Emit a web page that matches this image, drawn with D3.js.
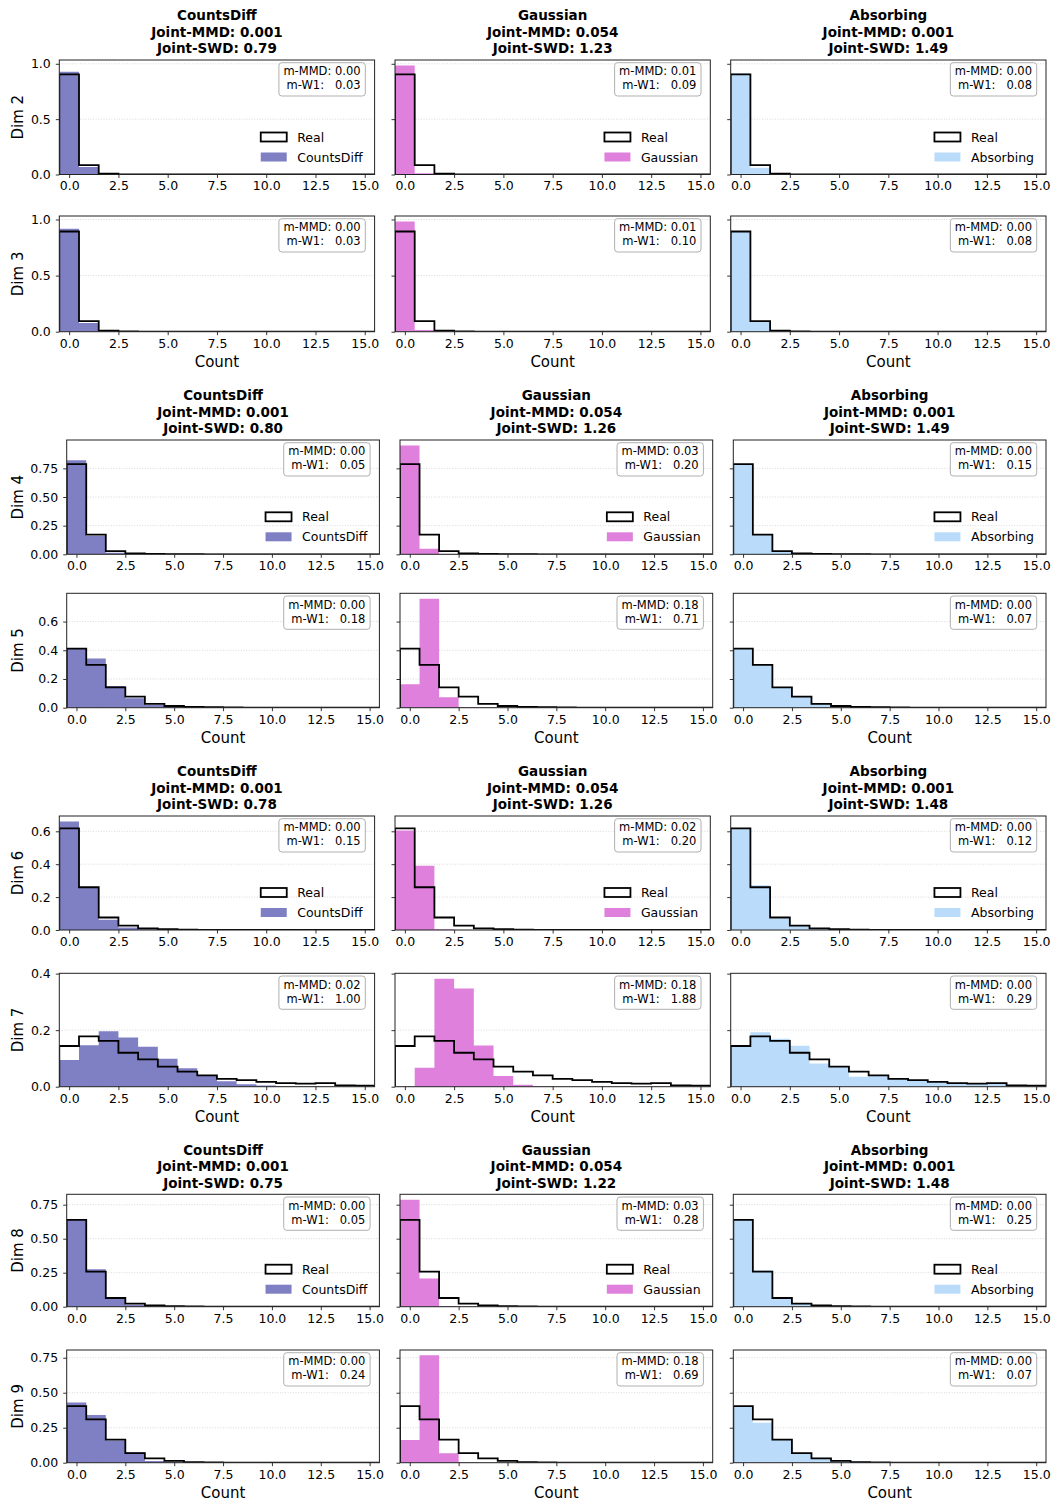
<!DOCTYPE html>
<html>
<head>
<meta charset="utf-8">
<script src="https://cdn.jsdelivr.net/npm/d3@7"></script>
<style>
  body { margin: 0; background: #fff; }
  svg { display: block; }
  text { font-family: "DejaVu Sans", "Liberation Sans", sans-serif; fill: #000; }
</style>
</head>
<body>
<svg id="chart" width="1055" height="1502"></svg>
<script>
// ---------- data: per-dimension count histograms (density per integer bin 0..15) ----------
const bins = d3.range(16);
const xTicks = [0, 2.5, 5, 7.5, 10, 12.5, 15];

const methods = ["CountsDiff", "Gaussian", "Absorbing"];
const methodColors = ["#7f7fc3", "#de80dc", "#badcfa"];
const dims = [2, 3, 4, 5, 6, 7, 8, 9];

const real2  = [0.905, 0.085, 0.007, 0.002, 0.001, 0, 0, 0, 0, 0, 0, 0, 0, 0, 0, 0];
const cd2    = [0.928, 0.068, 0.003, 0.001, 0, 0, 0, 0, 0, 0, 0, 0, 0, 0, 0, 0];
const gauss2 = [0.985, 0.012, 0.003, 0, 0, 0, 0, 0, 0, 0, 0, 0, 0, 0, 0, 0];
const abs2   = [0.915, 0.062, 0.014, 0.005, 0.002, 0.001, 0.001, 0, 0, 0, 0, 0, 0, 0, 0, 0];

const real3  = [0.893, 0.095, 0.009, 0.002, 0.001, 0, 0, 0, 0, 0, 0, 0, 0, 0, 0, 0];
const cd3    = [0.917, 0.078, 0.004, 0.001, 0, 0, 0, 0, 0, 0, 0, 0, 0, 0, 0, 0];
const gauss3 = [0.982, 0.016, 0.002, 0, 0, 0, 0, 0, 0, 0, 0, 0, 0, 0, 0, 0];
const abs3   = [0.895, 0.094, 0.009, 0.002, 0, 0, 0, 0, 0, 0, 0, 0, 0, 0, 0, 0];

const real4  = [0.787, 0.171, 0.028, 0.008, 0.003, 0.002, 0.001, 0, 0, 0, 0, 0, 0, 0, 0, 0];
const cd4    = [0.820, 0.162, 0.014, 0.003, 0.001, 0, 0, 0, 0, 0, 0, 0, 0, 0, 0, 0];
const gauss4 = [0.950, 0.048, 0.002, 0, 0, 0, 0, 0, 0, 0, 0, 0, 0, 0, 0, 0];
const abs4   = [0.787, 0.170, 0.030, 0.008, 0.003, 0.001, 0.001, 0, 0, 0, 0, 0, 0, 0, 0, 0];

const real5  = [0.412, 0.298, 0.142, 0.077, 0.026, 0.012, 0.005, 0.003, 0.002, 0.001, 0.001, 0, 0, 0, 0, 0];
const cd5    = [0.412, 0.342, 0.152, 0.065, 0.018, 0.008, 0.002, 0.001, 0, 0, 0, 0, 0, 0, 0, 0];
const gauss5 = [0.163, 0.759, 0.072, 0.005, 0.001, 0, 0, 0, 0, 0, 0, 0, 0, 0, 0, 0];
const abs5   = [0.410, 0.298, 0.143, 0.076, 0.027, 0.013, 0.005, 0.003, 0.002, 0.001, 0, 0, 0, 0, 0, 0];

const real6  = [0.618, 0.260, 0.076, 0.027, 0.010, 0.005, 0.002, 0.001, 0.001, 0, 0, 0, 0, 0, 0, 0];
const cd6    = [0.660, 0.258, 0.062, 0.015, 0.004, 0.001, 0, 0, 0, 0, 0, 0, 0, 0, 0, 0];
const gauss6 = [0.605, 0.390, 0.005, 0, 0, 0, 0, 0, 0, 0, 0, 0, 0, 0, 0, 0];
const abs6   = [0.620, 0.272, 0.070, 0.025, 0.009, 0.004, 0.001, 0, 0, 0, 0, 0, 0, 0, 0, 0];

const real7  = [0.144, 0.178, 0.162, 0.120, 0.097, 0.071, 0.053, 0.040, 0.028, 0.023, 0.017, 0.013, 0.011, 0.013, 0.005, 0.004];
const cd7    = [0.094, 0.147, 0.196, 0.174, 0.141, 0.099, 0.065, 0.041, 0.019, 0.009, 0.004, 0.002, 0.001, 0, 0, 0];
const gauss7 = [0, 0.067, 0.382, 0.347, 0.146, 0.038, 0.007, 0.002, 0, 0, 0, 0, 0, 0, 0, 0];
const abs7   = [0.144, 0.193, 0.170, 0.145, 0.082, 0.070, 0.035, 0.040, 0.028, 0.021, 0.016, 0.012, 0.010, 0.012, 0.005, 0.005];

const real8  = [0.639, 0.258, 0.064, 0.022, 0.009, 0.004, 0.002, 0.001, 0.001, 0, 0, 0, 0, 0, 0, 0];
const cd8    = [0.642, 0.276, 0.062, 0.014, 0.004, 0.001, 0.001, 0, 0, 0, 0, 0, 0, 0, 0, 0];
const gauss8 = [0.787, 0.208, 0.005, 0, 0, 0, 0, 0, 0, 0, 0, 0, 0, 0, 0, 0];
const abs8   = [0.640, 0.268, 0.060, 0.020, 0.008, 0.003, 0.001, 0, 0, 0, 0, 0, 0, 0, 0, 0];

const real9  = [0.405, 0.310, 0.165, 0.069, 0.031, 0.013, 0.004, 0.002, 0.001, 0, 0, 0, 0, 0, 0, 0];
const cd9    = [0.431, 0.340, 0.158, 0.074, 0.012, 0.006, 0.004, 0.003, 0.001, 0, 0, 0, 0, 0, 0, 0];
const gauss9 = [0.162, 0.767, 0.068, 0.003, 0, 0, 0, 0, 0, 0, 0, 0, 0, 0, 0, 0];
const abs9   = [0.405, 0.285, 0.165, 0.070, 0.035, 0.017, 0.008, 0.004, 0.002, 0.001, 0, 0, 0, 0, 0, 0];

const realByDim  = [real2, real3, real4, real5, real6, real7, real8, real9];
const modelByDim = [
  [cd2, gauss2, abs2], [cd3, gauss3, abs3], [cd4, gauss4, abs4], [cd5, gauss5, abs5],
  [cd6, gauss6, abs6], [cd7, gauss7, abs7], [cd8, gauss8, abs8], [cd9, gauss9, abs9]
];

// marginal metrics per dimension
const mmdCountsDiff = [0.00, 0.00, 0.00, 0.00, 0.00, 0.02, 0.00, 0.00];
const w1CountsDiff  = [0.03, 0.03, 0.05, 0.18, 0.15, 1.00, 0.05, 0.24];
const mmdGaussian   = [0.01, 0.01, 0.03, 0.18, 0.02, 0.18, 0.03, 0.18];
const w1Gaussian    = [0.09, 0.10, 0.20, 0.71, 0.20, 1.88, 0.28, 0.69];
const mmdAbsorbing  = [0.00, 0.00, 0.00, 0.00, 0.00, 0.00, 0.00, 0.00];
const w1Absorbing   = [0.08, 0.08, 0.15, 0.07, 0.12, 0.29, 0.25, 0.07];
const mmdByMethod = [mmdCountsDiff, mmdGaussian, mmdAbsorbing];
const w1ByMethod  = [w1CountsDiff, w1Gaussian, w1Absorbing];

// joint metrics for each block of two dimensions
const jointMMDCountsDiff = [0.001, 0.001, 0.001, 0.001];
const jointMMDGaussian   = [0.054, 0.054, 0.054, 0.054];
const jointMMDAbsorbing  = [0.001, 0.001, 0.001, 0.001];
const jointSWDCountsDiff = [0.79, 0.80, 0.78, 0.75];
const jointSWDGaussian   = [1.23, 1.26, 1.26, 1.22];
const jointSWDAbsorbing  = [1.49, 1.49, 1.48, 1.48];
const jointMMDByMethod = [jointMMDCountsDiff, jointMMDGaussian, jointMMDAbsorbing];
const jointSWDByMethod = [jointSWDCountsDiff, jointSWDGaussian, jointSWDAbsorbing];

// y tick values per dimension row
const yTicksByDim = [
  [0, 0.5, 1.0], [0, 0.5, 1.0], [0, 0.25, 0.5, 0.75], [0, 0.2, 0.4, 0.6],
  [0, 0.2, 0.4, 0.6], [0, 0.2, 0.4], [0, 0.25, 0.5, 0.75], [0, 0.25, 0.5, 0.75]
];
const yTickDecimals = [1, 1, 2, 1, 1, 1, 2, 2];

// ---------- layout ----------
const blocks = [
  { cols: [59.3, 395, 730.7], w: 315.3, rows: [[60, 174.5], [216, 331.7]] },
  { cols: [66.7, 400, 733.3], w: 312.7, rows: [[440, 554.3], [593.3, 707.7]] },
  { cols: [59.3, 395, 730.7], w: 315.3, rows: [[816, 930], [973.3, 1086.7]] },
  { cols: [66.7, 400, 733.3], w: 312.7, rows: [[1194.3, 1306.7], [1350, 1462.7]] }
];

const TICK_FS = 12.5, LABEL_FS = 15, TITLE_FS = 13.5, BOX_FS = 11.5, LEG_FS = 12.5;

const svg = d3.select("#chart");
let clipId = 0;

blocks.forEach((blk, b) => {
  blk.rows.forEach(([top, bottom], r) => {
    const d = b * 2 + r;
    const real = realByDim[d];
    const models = modelByDim[d];
    const yMax = 1.05 * d3.max([real, ...models].flat());

    methods.forEach((method, m) => {
      const left = blk.cols[m], right = left + blk.w;
      const x = d3.scaleLinear().domain([-0.5, 15.5]).range([left, right]);
      const y = d3.scaleLinear().domain([0, yMax]).range([bottom, top]);
      const g = svg.append("g");

      const id = "clip" + (clipId++);
      g.append("clipPath").attr("id", id).append("rect")
        .attr("x", left).attr("y", top).attr("width", right - left).attr("height", bottom - top);

      // horizontal dotted grid
      g.append("g").selectAll("line").data(yTicksByDim[d]).join("line")
        .attr("x1", left).attr("x2", right)
        .attr("y1", v => y(v)).attr("y2", v => y(v))
        .attr("stroke", "#cfcfcf").attr("stroke-width", 0.8).attr("stroke-dasharray", "1,1.6");

      // step points at bin edges
      const edges = bins.map(i => ({ e: i - 0.5, v: models[m][i] }));
      edges.push({ e: 15.5, v: models[m][15] });
      const area = d3.area().curve(d3.curveStepAfter)
        .x(p => x(p.e)).y0(y(0)).y1(p => y(p.v));
      g.append("path").attr("clip-path", `url(#${id})`)
        .attr("d", area(edges)).attr("fill", methodColors[m]);

      // real distribution outline
      const realEdges = [{ e: -0.5, v: 0 }];
      bins.forEach(i => realEdges.push({ e: i - 0.5, v: real[i] }));
      realEdges.push({ e: 15.5, v: real[15] });
      realEdges.push({ e: 15.5, v: 0 });
      const line = d3.line().curve(d3.curveStepAfter).x(p => x(p.e)).y(p => y(p.v));
      g.append("path").attr("clip-path", `url(#${id})`)
        .attr("d", line(realEdges)).attr("fill", "none")
        .attr("stroke", "#000").attr("stroke-width", 1.8).attr("stroke-linejoin", "miter");

      // axes
      const xAxis = g.append("g").attr("transform", `translate(0,${bottom})`)
        .call(d3.axisBottom(x).tickValues(xTicks).tickFormat(d3.format(".1f"))
          .tickSize(3.5).tickPadding(3.5));
      const yAxis = g.append("g").attr("transform", `translate(${left},0)`)
        .call(d3.axisLeft(y).tickValues(yTicksByDim[d])
          .tickFormat(m === 0 ? d3.format(`.${yTickDecimals[d]}f`) : () => "")
          .tickSize(3.5).tickPadding(5));
      [xAxis, yAxis].forEach(a => {
        a.select(".domain").remove();
        a.selectAll(".tick line").attr("stroke", "#000").attr("stroke-width", 0.8);
        a.selectAll(".tick text").attr("font-size", TICK_FS)
          .attr("font-family", "DejaVu Sans").attr("fill", "#000");
      });

      // frame
      g.append("rect").attr("x", left).attr("y", top)
        .attr("width", right - left).attr("height", bottom - top)
        .attr("fill", "none").attr("stroke", "#222").attr("stroke-width", 1);

      // marginal metric box
      const boxRect = g.append("rect");
      const tb = g.append("text").attr("font-size", BOX_FS).attr("text-anchor", "end")
        .style("white-space", "pre");
      tb.append("tspan").attr("x", right - 14).attr("y", top + 15.4)
        .text(`m-MMD: ${mmdByMethod[m][d].toFixed(2)}`);
      tb.append("tspan").attr("x", right - 14).attr("y", top + 29.4)
        .text(`m-W1:   ${w1ByMethod[m][d].toFixed(2)}`);
      const bb = tb.node().getBBox();
      boxRect
        .attr("x", bb.x - 4.5).attr("y", top + 2.7)
        .attr("width", (right - 9.3) - (bb.x - 4.5)).attr("height", 33.3)
        .attr("rx", 3).attr("ry", 3)
        .attr("fill", "#fff").attr("fill-opacity", 0.85)
        .attr("stroke", "#b0b0b0").attr("stroke-width", 1);

      // legend on the upper row of each block
      if (r === 0) {
        const lg = g.append("g");
        const labels = ["Real", method];
        const tmp = lg.append("text").attr("font-size", LEG_FS).text(method);
        const wMethod = tmp.node().getComputedTextLength();
        tmp.text("Real");
        const wMax = Math.max(wMethod, tmp.node().getComputedTextLength());
        tmp.remove();
        const tx = right - 12 - wMax;
        labels.forEach((lab, k) => {
          const cy = bottom - 37.5 + 20 * k;
          lg.append("rect").attr("x", tx - 36.5).attr("y", cy - 4.5)
            .attr("width", 26).attr("height", 9)
            .attr("fill", k === 0 ? "#fff" : methodColors[m])
            .attr("stroke", k === 0 ? "#000" : "none").attr("stroke-width", 1.8);
          lg.append("text").attr("x", tx).attr("y", cy + 4.5)
            .attr("font-size", LEG_FS).text(lab);
        });
        // column title
        const titleLines = [method,
          `Joint-MMD: ${jointMMDByMethod[m][b].toFixed(3)}`,
          `Joint-SWD: ${jointSWDByMethod[m][b].toFixed(2)}`];
        titleLines.forEach((t, k) => {
          g.append("text").attr("x", (left + right) / 2)
            .attr("y", top - 6.8 - 16.5 * (2 - k))
            .attr("text-anchor", "middle").attr("font-size", TITLE_FS)
            .attr("font-weight", "bold").text(t);
        });
      } else {
        g.append("text").attr("x", (left + right) / 2).attr("y", bottom + 35)
          .attr("text-anchor", "middle").attr("font-size", LABEL_FS).text("Count");
      }

      if (m === 0) {
        g.append("text")
          .attr("transform", `translate(23,${(top + bottom) / 2}) rotate(-90)`)
          .attr("text-anchor", "middle").attr("font-size", LABEL_FS)
          .text(`Dim ${dims[d]}`);
      }
    });
  });
});
</script>
</body>
</html>
